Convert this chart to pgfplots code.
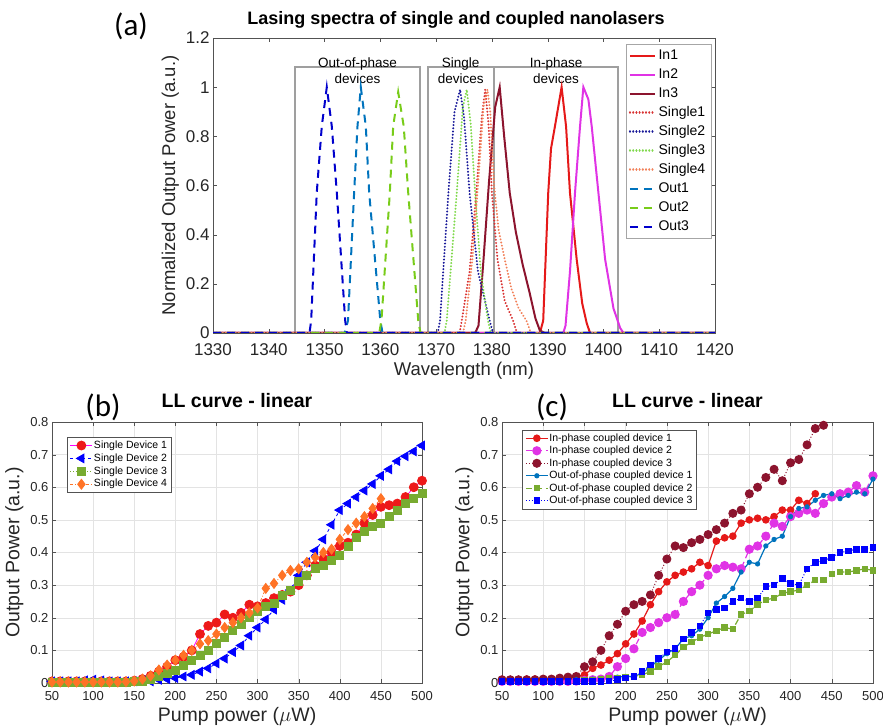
\documentclass[border=0pt]{standalone}
\usepackage{fontspec}
\setmainfont{Liberation Sans}
\newfontfamily\calib{Carlito}
\usepackage{pgfplots}
\pgfplotsset{compat=1.18}
\definecolor{cIn1}{rgb}{0.90,0.10,0.10}
\definecolor{cIn2}{rgb}{0.88,0.20,0.90}
\definecolor{cIn3}{rgb}{0.55,0.08,0.18}
\definecolor{cS1}{rgb}{0.85,0.20,0.20}
\definecolor{cS2}{rgb}{0.10,0.10,0.60}
\definecolor{cS3}{rgb}{0.50,0.85,0.30}
\definecolor{cS4}{rgb}{0.95,0.50,0.35}
\definecolor{cO1}{rgb}{0.00,0.45,0.74}
\definecolor{cO2}{rgb}{0.47,0.80,0.10}
\definecolor{cO3}{rgb}{0.00,0.00,0.80}
\definecolor{dred}{rgb}{0.93,0.10,0.10}
\definecolor{dblue}{rgb}{0.00,0.00,1.00}
\definecolor{dgreen}{rgb}{0.47,0.67,0.19}
\definecolor{dorange}{rgb}{1.00,0.45,0.15}
\definecolor{dmag}{rgb}{1.00,0.00,1.00}
\definecolor{axgray}{rgb}{0.15,0.15,0.15}
\pgfplotsset{
  every axis/.append style={
    /pgf/number format/assume math mode=true,
    /pgf/number format/1000 sep={},
    axis line style={axgray!80},
    tick style={axgray!80},
    tick label style={text=axgray},
    label style={text=axgray},
    scale only axis,
  },
  dotstyle/.style={line width=2.2pt, line cap=round, dash pattern=on 0.01pt off 3.2pt},
}
\begin{document}
\begin{tikzpicture}[x=1pt,y=1pt]
\useasboundingbox (0,0) rectangle (883,727);
% ---------------- panel (a)
\begin{axis}[
  at={(213pt,394pt)}, anchor=south west,
  width=502pt, height=295pt,
  xmin=1330, xmax=1420, ymin=0, ymax=1.2,
  xtick={1330,1340,1350,1360,1370,1380,1390,1400,1410,1420},
  ytick={0,0.2,0.4,0.6,0.8,1,1.2},
  tick label style={font=\fontsize{17}{17}\selectfont},
  x tick label style={yshift=-7pt},
  label style={font=\fontsize{18.5}{18.5}\selectfont},
  xlabel={Wavelength (nm)},
  ylabel={Normalized Output Power (a.u.)},
  title={\bfseries Lasing spectra of single and coupled nanolasers},
  title style={font=\fontsize{18}{18}\selectfont, at={(0.5,1)}, anchor=base, yshift=7pt, xshift=-8pt},
  legend cell align=left,
  legend image code/.code={\draw[#1] (0pt,0pt) -- (25pt,0pt);},
  legend style={at={(0.992,0.98)}, anchor=north east, draw=gray!70,
    font=\fontsize{14}{14}\selectfont,
    nodes={text height=11pt, text depth=3pt, inner sep=2.5pt}},
]
\draw[gray!75, line width=1.6pt] (axis cs:1344.7,0) rectangle (axis cs:1367.1,1.082);
\draw[gray!75, line width=1.6pt] (axis cs:1368.5,0) rectangle (axis cs:1380.3,1.082);
\draw[gray!75, line width=1.6pt] (axis cs:1380.5,0) rectangle (axis cs:1402.6,1.082);
\node[font=\fontsize{13.5}{16}\selectfont, align=center, text=black] at (axis cs:1355.9,1.068) {Out-of-phase\\devices};
\node[font=\fontsize{13.5}{16}\selectfont, align=center, text=black] at (axis cs:1374.4,1.068) {Single\\devices};
\node[font=\fontsize{13.5}{16}\selectfont, align=center, text=black] at (axis cs:1391.5,1.068) {In-phase\\devices};
% In1
\addplot[cIn1, line width=2pt] coordinates {(1330,0)(1388.6,0)(1389.2,0.05)(1390.1,0.57)(1390.6,0.75)(1391.3,0.84)(1392.5,1.0)(1393.3,0.84)(1394,0.57)(1395.2,0.3)(1396.2,0.12)(1397,0.04)(1397.6,0)(1420,0)};
% In2
\addplot[cIn2, line width=2pt] coordinates {(1330,0)(1392.8,0)(1393.2,0.03)(1394,0.25)(1394.9,0.57)(1395.8,0.84)(1396.4,1.0)(1397.3,0.95)(1397.9,0.84)(1399.1,0.57)(1400.3,0.3)(1401.8,0.1)(1403,0.02)(1403.6,0)(1420,0)};
% In3
\addplot[cIn3, line width=2pt] coordinates {(1330,0)(1377,0)(1377.6,0.03)(1378.5,0.3)(1379.5,0.62)(1380.6,0.92)(1381.4,1.0)(1382.2,0.8)(1383.2,0.57)(1384.3,0.41)(1385.5,0.28)(1386.8,0.16)(1387.8,0.06)(1388.6,0.01)(1389.5,0)(1420,0)};
% Single1
\addplot[cS1, dotstyle] coordinates {(1330,0)(1374.2,0)(1374.6,0.05)(1376,0.25)(1377.2,0.57)(1378.2,0.88)(1378.8,0.99)(1379.4,0.85)(1380,0.57)(1381,0.3)(1382.3,0.13)(1383.8,0.05)(1384.5,0)(1420,0)};
% Single2
\addplot[cS2, dotstyle] coordinates {(1330,0)(1370.3,0)(1370.7,0.05)(1372.2,0.57)(1373.3,0.9)(1374.3,0.99)(1375,0.88)(1376,0.57)(1377.5,0.25)(1379.6,0.05)(1380.2,0)(1420,0)};
% Single3
\addplot[cS3, dotstyle] coordinates {(1330,0)(1371.5,0)(1371.9,0.05)(1373.7,0.57)(1374.8,0.92)(1375.5,0.99)(1376.2,0.85)(1377,0.57)(1378,0.25)(1379.3,0.05)(1379.8,0)(1420,0)};
% Single4
\addplot[cS4, dotstyle] coordinates {(1330,0)(1374.8,0)(1375.3,0.05)(1376.5,0.3)(1377.5,0.6)(1378.5,0.92)(1379.2,0.99)(1379.7,0.9)(1380.4,0.6)(1381.2,0.42)(1382.3,0.3)(1383.5,0.18)(1384.8,0.1)(1386.2,0.05)(1387,0)(1420,0)};
% Out1
\addplot[cO1, line width=2pt, dash pattern=on 8pt off 6pt] coordinates {(1330,0)(1353.6,0)(1354.2,0.05)(1355.3,0.57)(1355.9,0.84)(1356.5,1.0)(1357.4,0.84)(1358,0.57)(1360,0.05)(1360.4,0)(1420,0)};
% Out2
\addplot[cO2, line width=2pt, dash pattern=on 8pt off 6pt] coordinates {(1330,0)(1359.8,0)(1360.2,0.05)(1361.7,0.57)(1362.3,0.84)(1363.2,0.98)(1364.2,0.84)(1365,0.57)(1366.8,0.05)(1367.2,0)(1420,0)};
% Out3
\addplot[cO3, line width=2pt, dash pattern=on 8pt off 6pt] coordinates {(1330,0)(1347.3,0)(1347.6,0.05)(1348.6,0.57)(1349.5,0.84)(1350.4,1.0)(1351.3,0.84)(1352.2,0.57)(1353.7,0.05)(1354,0)(1420,0)};
\legend{In1,In2,In3,Single1,Single2,Single3,Single4,Out1,Out2,Out3}
\end{axis}
% ---------------- panel (b)
\begin{axis}[
  at={(52pt,44pt)}, anchor=south west,
  width=370pt, height=261pt,
  xmin=50, xmax=500, ymin=0, ymax=0.8,
  xtick={50,100,150,200,250,300,350,400,450,500},
  ytick={0,0.1,0.2,0.3,0.4,0.5,0.6,0.7,0.8},
  grid=major, grid style={gray!22},
  tick label style={font=\fontsize{13}{13}\selectfont},
  x tick label style={yshift=-5pt},
  label style={font=\fontsize{19.5}{19.5}\selectfont},
  xlabel={Pump power ($\mu$W)},
  ylabel={Output Power (a.u.)},
  title={\bfseries LL curve - linear},
  title style={font=\fontsize{19.5}{19.5}\selectfont, at={(0.5,1)}, anchor=base, yshift=8pt},
  legend cell align=left,
  legend image code/.code={\draw[mark repeat=2,mark phase=2,#1] plot coordinates {(0pt,0pt) (11pt,0pt) (22pt,0pt)};},
  legend style={at={(0.04,0.943)}, anchor=north west, draw=axgray!80,
    font=\fontsize{10.5}{10.5}\selectfont,
    nodes={text height=8pt, text depth=2.5pt, inner sep=1.2pt}},
]
\addplot[dmag, line width=0.8pt, mark=*, mark size=4.5pt, mark options={solid, draw=dred, fill=dred}] coordinates {
(50,0.005)(60,0.005)(70,0.005)(80,0.005)(90,0.005)(100,0.005)(110,0.005)(120,0.005)(130,0.005)(140,0.005)(150,0.007)(160,0.012)(170,0.022)(180,0.035)(190,0.05)(200,0.07)(210,0.08)(220,0.1)(230,0.15)(240,0.175)(250,0.185)(260,0.21)(270,0.2)(280,0.215)(290,0.24)(300,0.235)(310,0.245)(320,0.26)(330,0.27)(340,0.28)(350,0.3)(360,0.33)(370,0.36)(380,0.38)(390,0.4)(400,0.42)(410,0.43)(420,0.455)(430,0.49)(440,0.515)(450,0.54)(460,0.545)(470,0.55)(480,0.57)(490,0.6)(500,0.62)};
\addplot[dblue, line width=0.8pt, dashed, mark=triangle*, mark size=5pt, mark options={solid, rotate=90, draw=dblue, fill=dblue}] coordinates {
(50,0.005)(60,0.005)(70,0.005)(80,0.005)(90,0.008)(100,0.01)(110,0.008)(120,0.005)(130,0.005)(140,0.005)(150,0.005)(160,0.008)(170,0.005)(180,0.01)(190,0.012)(200,0.015)(210,0.02)(220,0.025)(230,0.035)(240,0.045)(250,0.06)(260,0.075)(270,0.095)(280,0.115)(290,0.145)(300,0.17)(310,0.195)(320,0.225)(330,0.255)(340,0.285)(350,0.33)(360,0.37)(370,0.405)(380,0.44)(390,0.485)(400,0.53)(410,0.55)(420,0.57)(430,0.59)(440,0.61)(450,0.635)(460,0.655)(470,0.68)(480,0.695)(490,0.71)(500,0.728)};
\addplot[dgreen, line width=0.8pt, dotted, mark=square*, mark size=4pt, mark options={solid, draw=dgreen, fill=dgreen}] coordinates {
(50,0.003)(60,0.003)(70,0.003)(80,0.003)(90,0.003)(100,0.003)(110,0.003)(120,0.003)(130,0.003)(140,0.003)(150,0.004)(160,0.006)(170,0.01)(180,0.02)(190,0.03)(200,0.04)(210,0.055)(220,0.07)(230,0.085)(240,0.1)(250,0.12)(260,0.14)(270,0.16)(280,0.18)(290,0.2)(300,0.22)(310,0.235)(320,0.245)(330,0.27)(340,0.285)(350,0.31)(360,0.33)(370,0.35)(380,0.36)(390,0.375)(400,0.39)(410,0.42)(420,0.445)(430,0.465)(440,0.48)(450,0.49)(460,0.51)(470,0.53)(480,0.55)(490,0.565)(500,0.58)};
\addplot[dorange, line width=0.8pt, dash dot, mark=diamond*, mark size=5pt, mark options={solid, draw=dorange, fill=dorange}] coordinates {
(50,0.003)(60,0.003)(70,0.003)(80,0.003)(90,0.003)(100,0.003)(110,0.003)(120,0.003)(130,0.003)(140,0.004)(150,0.006)(160,0.012)(170,0.022)(180,0.04)(190,0.055)(200,0.07)(210,0.085)(220,0.1)(230,0.12)(240,0.13)(250,0.15)(260,0.17)(270,0.185)(280,0.2)(290,0.215)(300,0.23)(310,0.29)(320,0.305)(330,0.33)(340,0.345)(350,0.35)(360,0.37)(370,0.385)(380,0.4)(390,0.41)(400,0.44)(410,0.47)(420,0.49)(430,0.51)(440,0.535)(450,0.565)};
\legend{Single Device 1,Single Device 2,Single Device 3,Single Device 4}
\end{axis}
% ---------------- panel (c)
\begin{axis}[
  at={(502pt,44pt)}, anchor=south west,
  width=371pt, height=261pt,
  xmin=50, xmax=500, ymin=0, ymax=0.8,
  xtick={50,100,150,200,250,300,350,400,450,500},
  ytick={0,0.1,0.2,0.3,0.4,0.5,0.6,0.7,0.8},
  grid=major, grid style={gray!22},
  tick label style={font=\fontsize{13}{13}\selectfont},
  x tick label style={yshift=-5pt},
  label style={font=\fontsize{19.5}{19.5}\selectfont},
  xlabel={Pump power ($\mu$W)},
  ylabel={Output Power (a.u.)},
  title={\bfseries LL curve - linear},
  title style={font=\fontsize{19.5}{19.5}\selectfont, at={(0.5,1)}, anchor=base, yshift=8pt},
  legend cell align=left,
  legend image code/.code={\draw[mark repeat=2,mark phase=2,#1] plot coordinates {(0pt,0pt) (11pt,0pt) (22pt,0pt)};},
  legend style={at={(0.054,0.97)}, anchor=north west, draw=axgray!80,
    font=\fontsize{10.5}{10.5}\selectfont,
    nodes={text height=8pt, text depth=2.5pt, inner sep=1.0pt}},
]
\addplot[cIn1, line width=1.2pt, mark=*, mark size=3.2pt, mark options={solid, fill=cIn1}] coordinates {
(50,0.01)(60,0.01)(70,0.01)(80,0.012)(90,0.012)(100,0.012)(110,0.012)(120,0.015)(130,0.018)(140,0.02)(150,0.025)(160,0.045)(170,0.055)(180,0.07)(190,0.09)(200,0.12)(210,0.15)(220,0.19)(230,0.24)(240,0.28)(250,0.31)(260,0.33)(270,0.34)(280,0.35)(290,0.37)(300,0.36)(310,0.435)(320,0.445)(330,0.45)(340,0.49)(350,0.5)(360,0.505)(370,0.5)(380,0.51)(390,0.53)(400,0.53)(410,0.56)(420,0.55)(430,0.58)};
\addplot[cIn2, line width=1.2pt, dash pattern=on 6pt off 4pt, mark=*, mark size=4pt, mark options={solid, fill=cIn2}] coordinates {
(50,0.005)(60,0.005)(70,0.005)(80,0.005)(90,0.005)(100,0.005)(110,0.005)(120,0.005)(130,0.005)(140,0.006)(150,0.008)(160,0.01)(170,0.012)(180,0.02)(190,0.05)(200,0.075)(210,0.105)(220,0.155)(230,0.17)(240,0.185)(250,0.2)(260,0.21)(270,0.25)(280,0.28)(290,0.3)(300,0.33)(310,0.35)(320,0.36)(330,0.355)(340,0.35)(350,0.41)(360,0.42)(370,0.45)(380,0.49)(390,0.48)(400,0.51)(410,0.52)(420,0.53)(430,0.52)(440,0.55)(450,0.57)(460,0.58)(470,0.585)(480,0.605)(490,0.585)(500,0.635)};
\addplot[cIn3, line width=1pt, dotted, mark=*, mark size=4pt, mark options={solid, fill=cIn3}] coordinates {
(50,0.01)(60,0.01)(70,0.01)(80,0.01)(90,0.01)(100,0.012)(110,0.012)(120,0.015)(130,0.018)(140,0.02)(150,0.05)(160,0.065)(170,0.1)(180,0.145)(190,0.18)(200,0.22)(210,0.24)(220,0.25)(230,0.27)(240,0.33)(250,0.38)(260,0.42)(270,0.415)(280,0.43)(290,0.44)(300,0.455)(310,0.47)(320,0.49)(330,0.52)(340,0.53)(350,0.58)(360,0.6)(370,0.63)(380,0.655)(390,0.62)(400,0.675)(410,0.685)(420,0.73)(430,0.78)(440,0.79)};
\addplot[cO1, line width=1.2pt, mark=*, mark size=2pt, mark options={solid, fill=cO1}] coordinates {
(50,0.008)(60,0.008)(70,0.008)(80,0.008)(90,0.008)(100,0.008)(110,0.008)(120,0.008)(130,0.008)(140,0.01)(150,0.01)(160,0.012)(170,0.012)(180,0.015)(190,0.018)(200,0.02)(210,0.02)(220,0.03)(230,0.05)(240,0.07)(250,0.09)(260,0.105)(270,0.135)(280,0.145)(290,0.165)(300,0.2)(310,0.245)(320,0.265)(330,0.29)(340,0.34)(350,0.37)(360,0.365)(370,0.42)(380,0.44)(390,0.45)(400,0.51)(410,0.535)(420,0.54)(430,0.56)(440,0.575)(450,0.58)(460,0.565)(470,0.575)(480,0.585)(490,0.58)(500,0.625)};
\addplot[dgreen, line width=1.2pt, dash pattern=on 6pt off 4pt, mark=square*, mark size=2.6pt, mark options={solid, fill=dgreen}] coordinates {
(50,0.005)(60,0.005)(70,0.005)(80,0.005)(90,0.005)(100,0.005)(110,0.005)(120,0.005)(130,0.005)(140,0.006)(150,0.008)(160,0.01)(170,0.012)(180,0.014)(190,0.016)(200,0.018)(210,0.02)(220,0.025)(230,0.035)(240,0.05)(250,0.065)(260,0.085)(270,0.11)(280,0.125)(290,0.14)(300,0.15)(310,0.16)(320,0.17)(330,0.165)(340,0.21)(350,0.22)(360,0.24)(370,0.255)(380,0.26)(390,0.275)(400,0.28)(410,0.285)(420,0.3)(430,0.315)(440,0.315)(450,0.335)(460,0.34)(470,0.34)(480,0.345)(490,0.35)(500,0.345)};
\addplot[dblue, line width=1pt, dotted, mark=square*, mark size=2.8pt, mark options={solid, fill=dblue}] coordinates {
(50,0.004)(60,0.004)(70,0.004)(80,0.004)(90,0.004)(100,0.004)(110,0.004)(120,0.004)(130,0.004)(140,0.004)(150,0.005)(160,0.005)(170,0.005)(180,0.006)(190,0.01)(200,0.015)(210,0.02)(220,0.035)(230,0.055)(240,0.075)(250,0.095)(260,0.105)(270,0.135)(280,0.155)(290,0.175)(300,0.215)(310,0.225)(320,0.23)(330,0.25)(340,0.26)(350,0.25)(360,0.26)(370,0.295)(380,0.3)(390,0.32)(400,0.305)(410,0.3)(420,0.35)(430,0.37)(440,0.375)(450,0.385)(460,0.4)(470,0.405)(480,0.41)(490,0.41)(500,0.415)};
\legend{In-phase coupled device 1,In-phase coupled device 2,In-phase coupled device 3,Out-of-phase coupled device 1,Out-of-phase coupled device 2,Out-of-phase coupled device 3}
\end{axis}
% panel letters
\node[font=\calib\fontsize{31}{31}\selectfont] at (131,701) {(a)};
\node[font=\calib\fontsize{31}{31}\selectfont] at (103,320) {(b)};
\node[font=\calib\fontsize{31}{31}\selectfont] at (552,320) {(c)};
\end{tikzpicture}
\end{document}
